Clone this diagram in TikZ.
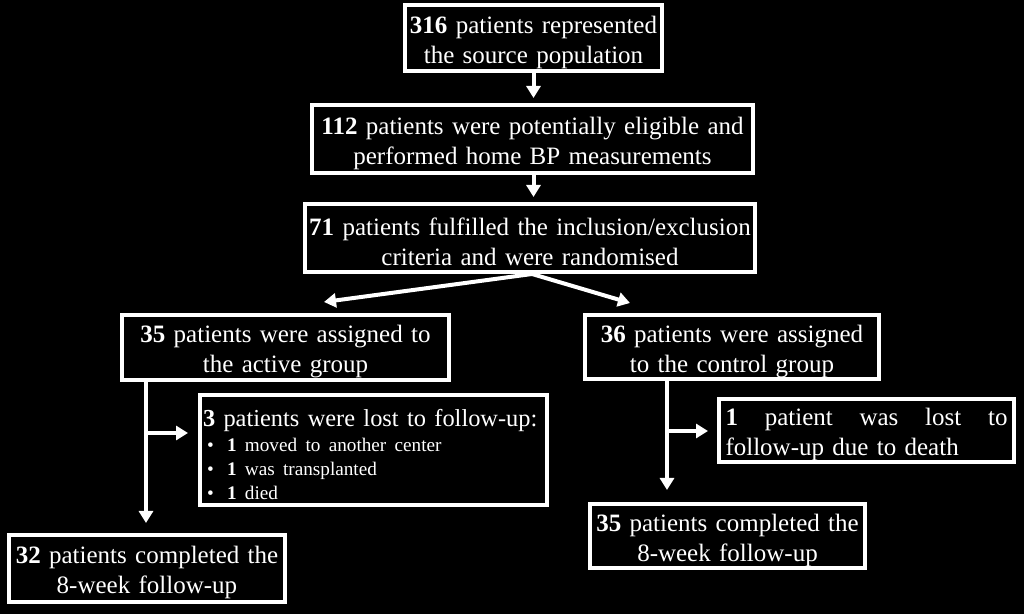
\documentclass[tikz,border=0pt]{standalone}
\usepackage{fontspec}
\setmainfont{Liberation Serif}
\usepackage{tikz}
\usetikzlibrary{
	arrows.meta
}

\tikzset{
	box/.style={draw=white, fill=black, text=white, line width=2pt,
		inner sep=0pt, align=center, font=\fontsize{12.5}{15}\selectfont,
		execute at begin node=\rule{0pt}{12.8pt}},
	flow/.style={draw=white, line width=2pt, -{Triangle[length=6pt,width=7pt]}}
}
\newcommand{\lostitem}{\hspace*{2pt}\makebox[10pt][l]{\textbullet}}

\begin{document}
\begin{tikzpicture}[x=0.5pt,y=-0.5pt]
	\fill[black] (0,0) rectangle (1024,614);
	\useasboundingbox (0,0) rectangle (1024,614);

	\node [box,minimum width=128.5pt,minimum height=33pt,text width=126.5pt] (src) at (533.5,38)
		{\textbf{316} patients represented\\the source population};
	\node [box,minimum width=220.5pt,minimum height=34pt,text width=218.5pt] (elig) at (532.5,139)
		{\textbf{112} patients were potentially eligible and\\performed home BP measurements};
	\node [box,minimum width=225pt,minimum height=34pt,text width=223pt] (rand) at (530,238)
		{\textbf{71} patients fulfilled the inclusion/exclusion\\criteria and were randomised};
	\node [box,minimum width=163.5pt,minimum height=32.5pt,text width=161.5pt] (act) at (285.5,347.5)
		{\textbf{35} patients were assigned to\\the active group};
	\node [box,minimum width=147pt,minimum height=32pt,text width=145pt] (ctl) at (732,347)
		{\textbf{36} patients were assigned\\to the control group};
	\node [box,minimum width=173.5pt,minimum height=55pt,align=left,text width=170.5pt,
		execute at begin node={}] (lostA) at (373.5,450)
		{\mbox{\fontsize{12.2}{15}\selectfont\textbf{3} patients were lost to follow-up:}\par
		\vspace{1pt}\fontsize{9.6}{11.8}\selectfont
		\lostitem\textbf{1} moved to another center\\
		\lostitem\textbf{1} was transplanted\\
		\lostitem\textbf{1} died\par};
	\node [box,minimum width=147.5pt,minimum height=31.5pt,align=left,text width=141pt,
		execute at begin node={}] (lostC) at (866.5,430.5)
		{\textbf{1}\hfill patient\hfill was\hfill lost\hfill to\\follow-up due to death};
	\node [box,minimum width=138pt,minimum height=33.5pt,text width=136pt] (doneA) at (147,568.5)
		{\textbf{32} patients completed the\\8-week follow-up};
	\node [box,minimum width=137.5pt,minimum height=32pt,text width=135.5pt] (doneC) at (727.5,536)
		{\textbf{35} patients completed the\\8-week follow-up};

	\coordinate (split) at (532,274);
	\coordinate (tipA) at (324,302);
	\coordinate (tipC) at (630,303);
	\coordinate (jA) at (146,433);
	\coordinate (jC) at (667,431);

	\draw [flow,shorten >=2.5pt] (src.south) -- (src.south |- elig.north);
	\draw [flow,shorten >=2.5pt] (elig.south -| src.south) -- (src.south |- rand.north);
	\draw [flow] (split) -- (tipA);
	\draw [flow] (split) -- (tipC);
	\draw [flow,shorten >=5pt] (act.south -| jA) -- (doneA.north -| jA);
	\draw [flow,shorten >=5pt] (jA) -- (lostA.west |- jA);
	\draw [flow,shorten >=6pt] (ctl.south -| jC) -- (doneC.north -| jC);
	\draw [flow,shorten >=4.5pt] (jC) -- (lostC.west |- jC);
\end{tikzpicture}
\end{document}
